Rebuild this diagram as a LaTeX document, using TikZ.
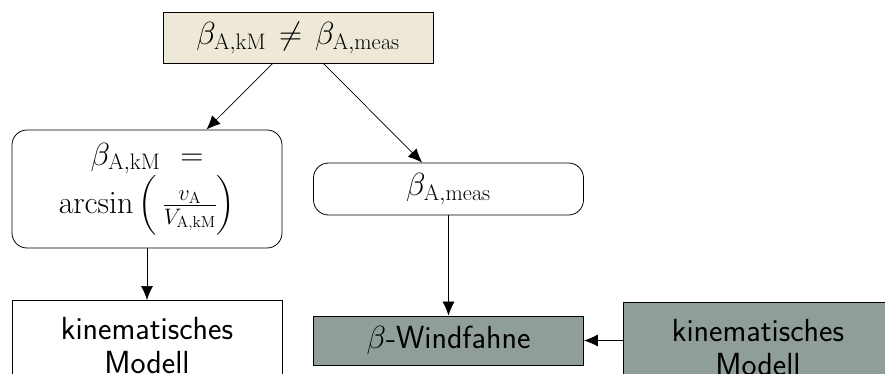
\RequirePackage{fix-cm}
\documentclass[tikz,border=0pt]{standalone}
\usepackage{amsmath}
\usetikzlibrary{arrows.meta,positioning}
\definecolor{beige}{RGB}{237,232,215}
\definecolor{slate}{RGB}{143,158,155}
\begin{document}
\begin{tikzpicture}[x=1pt,y=1pt,
  every node/.style={font=\fontsize{32}{38}\selectfont, align=center, inner sep=3pt},
  plainbox/.style={draw, line width=0.8pt, minimum width=270pt, text width=262pt},
  roundbox/.style={plainbox, rounded corners=15pt},
  arr/.style={-{Latex[length=14pt,width=12pt]}, line width=0.7pt}]
\useasboundingbox (0,0) rectangle (885,-374);
\node[plainbox, fill=beige, minimum height=50.5pt] (top) at (298,-38)
  {$\beta_{\mathrm{A,kM}}\neq\beta_{\mathrm{A,meas}}$};
\node[roundbox, minimum height=118pt] (left) at (147,-189)
  {$\beta_{\mathrm{A,kM}}$\hspace{20pt}${=}$\\[0pt] $\arcsin\,\Bigl(\,\frac{v_{\mathrm{A}}}{V_{\mathrm{A,kM}}}\Bigr)$};
\node[roundbox, minimum height=52pt] (right) at (448.5,-189)
  {$\beta_{\mathrm{A,meas}}$};
\node[plainbox, anchor=north, minimum height=90pt] (bl) at (147,-300)
  {\sffamily kinematisches\\[-4pt] \sffamily Modell};
\node[plainbox, fill=slate, minimum height=49pt] (mid) at (448.5,-340.5)
  {$\beta$\sffamily-Windfahne};
\node[plainbox, fill=slate, anchor=north, minimum height=90pt] (gr) at (758,-302)
  {\sffamily kinematisches\\[-4pt] \sffamily Modell};
\draw[arr] (top) -- (left);
\draw[arr] (top) -- (right);
\draw[arr] (left) -- (bl);
\draw[arr] (right) -- (mid);
\draw[arr] (mid.east -| gr.west) -- (mid.east);
\end{tikzpicture}
\end{document}
